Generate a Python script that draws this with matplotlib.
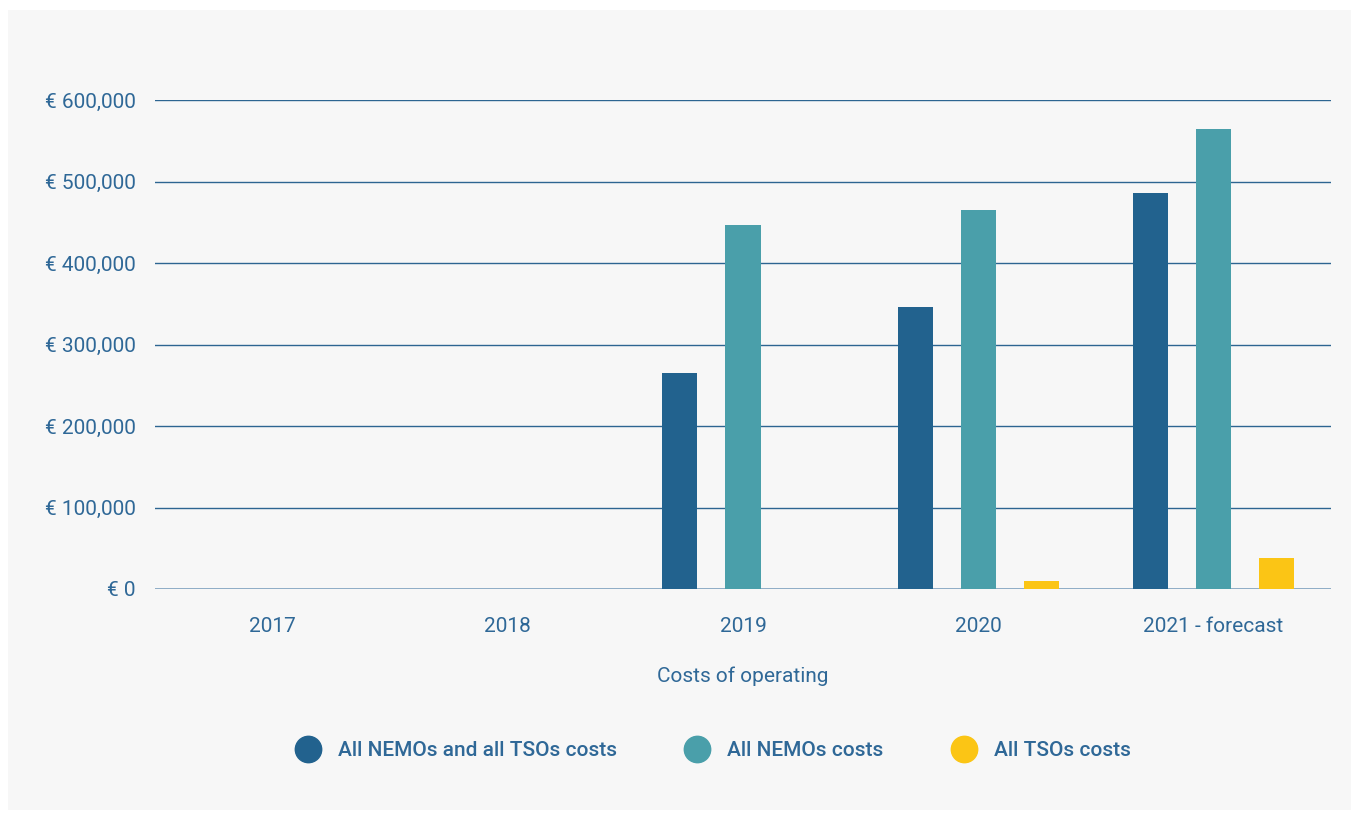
import numpy as np
import matplotlib.pyplot as plt
from matplotlib.patches import Rectangle
from matplotlib.lines import Line2D
import matplotlib.ticker as plticker

years = ['2017', '2018', '2019', '2020', '2021 - forecast']
nemos_tsos = [0, 0, 265000, 346000, 486000]
nemos = [0, 0, 447000, 465000, 564000]
tsos = [0, 0, 0, 10000, 38000]
series_names = ['All NEMOs and all TSOs costs', 'All NEMOs costs', 'All TSOs costs']
colors = ['#22628e', '#4a9faa', '#fbc515']

text_col = '#2f6897'
plt.rcParams['font.family'] = ['Roboto', 'DejaVu Sans']

fig = plt.figure(figsize=(13.59, 8.18), dpi=100)
fig.patch.set_facecolor('white')
# light grey panel behind everything
fig.patches.append(Rectangle((8 / 1359, 8 / 818), 1343 / 1359, 800 / 818,
                             transform=fig.transFigure, facecolor='#f7f7f7',
                             edgecolor='none', zorder=-10))

ax = fig.add_axes([155 / 1359, 1 - 589 / 818, 1176 / 1359, 489 / 818])
ax.set_facecolor('none')

x = np.arange(len(years))
w = 0.149
off = 0.268
for i, (vals, c) in enumerate(zip([nemos_tsos, nemos, tsos], colors)):
    ax.bar(x + (i - 1) * off, vals, width=w, color=c, zorder=3)

ax.set_xlim(-0.5, len(years) - 0.5)
ax.set_ylim(0, 600000)
ax.yaxis.set_major_locator(plticker.MultipleLocator(100000))
ax.yaxis.set_major_formatter(plticker.FuncFormatter(lambda v, p: '€ {:,.0f}'.format(v)))
ax.grid(axis='y', color='#2d6591', linewidth=1, zorder=1)
ax.axhline(0, color='#8aa9c4', linewidth=2, zorder=2)

for s in ax.spines.values():
    s.set_visible(False)
ax.tick_params(axis='both', length=0, labelsize=15, labelcolor=text_col)
ax.tick_params(axis='y', pad=14)
ax.tick_params(axis='x', pad=20)
ax.set_xticks(x)
ax.set_xticklabels(years)
ax.set_xlabel('Costs of operating', fontsize=15, color=text_col, labelpad=22)

handles = [Line2D([], [], marker='o', linestyle='', markersize=19, color=c) for c in colors]
fig.legend(handles, series_names, loc='center', bbox_to_anchor=(0.5254, 1 - 751 / 818),
           ncol=3, frameon=False, labelcolor=text_col, handlelength=1.0,
           handletextpad=0.95, columnspacing=3.35, prop={'size': 15, 'weight': 'medium'})

fig.savefig('out.png', dpi=100)
